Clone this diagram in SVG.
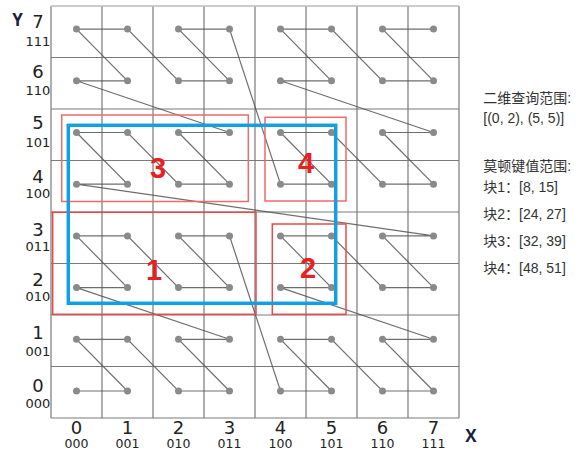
<svg xmlns="http://www.w3.org/2000/svg" width="584" height="451" viewBox="0 0 584 451">
<style>
.grid{stroke:#7a7a7a;stroke-width:1.2;fill:none}
.curve{stroke:#555;stroke-width:1.2;fill:none;stroke-opacity:0.85}
.pt{fill:#8a8a8a}
.ax{font-family:"DejaVu Sans",sans-serif;fill:#222;text-anchor:middle}
.d{font-size:18px}
.b{font-size:13px}
.xb{font-size:12.5px}
.axname{font-family:"Open Sans","Liberation Sans",sans-serif;font-weight:bold;font-size:17px;fill:#1b1f3a;text-anchor:middle}
.blk{fill:none;stroke:#e84a4a;stroke-width:1.5}
.blk2{fill:none;stroke:#f06a6a;stroke-width:1.5}
.num{font-family:"Liberation Sans",Arial,sans-serif;font-weight:bold;font-size:29px;fill:#e82020;text-anchor:middle}
.q{fill:none;stroke:#12a0e0;stroke-width:3.5}
.info{font-family:"Liberation Sans","Noto Sans CJK SC",sans-serif;font-size:14px;fill:#333}
</style>
<rect width="584" height="451" fill="#fff"/>
<g id="grid">
<path class="grid" d="M51,57.5H459M51,109H459M51,160.5H459M51,212H459M51,263.5H459M51,315H459M51,366.5H459M51,418H459"/>
<path class="grid" d="M51,6V418M102,6V418M153,6V418M204,6V418M255,6V418M306,6V418M357,6V418M408,6V418M459,6V418"/>
<path d="M51,6H459" stroke="#bbb" stroke-width="1.5" fill="none"/>
</g>
<g id="connectors">
<polyline class="curve" points="76.5,391 127.5,391 76.5,339.3 127.5,339.3 178.5,391 229.5,391 178.5,339.3 229.5,339.3 76.5,287.6 127.5,287.6 76.5,235.9 127.5,235.9 178.5,287.6 229.5,287.6 178.5,235.9 229.5,235.9 280.5,391 331.5,391 280.5,339.3 331.5,339.3 382.5,391 433.5,391 382.5,339.3 433.5,339.3 280.5,287.6 331.5,287.6 280.5,235.9 331.5,235.9 382.5,287.6 433.5,287.6 382.5,235.9 433.5,235.9 76.5,184.2 127.5,184.2 76.5,132.5 127.5,132.5 178.5,184.2 229.5,184.2 178.5,132.5 229.5,132.5 76.5,80.8 127.5,80.8 76.5,29.1 127.5,29.1 178.5,80.8 229.5,80.8 178.5,29.1 229.5,29.1 280.5,184.2 331.5,184.2 280.5,132.5 331.5,132.5 382.5,184.2 433.5,184.2 382.5,132.5 433.5,132.5 280.5,80.8 331.5,80.8 280.5,29.1 331.5,29.1 382.5,80.8 433.5,80.8 382.5,29.1 433.5,29.1"/>
</g>
<g id="points">
<g class="pt">
<circle cx="76.5" cy="391" r="3.5"/><circle cx="127.5" cy="391" r="3.5"/><circle cx="178.5" cy="391" r="3.5"/><circle cx="229.5" cy="391" r="3.5"/><circle cx="280.5" cy="391" r="3.5"/><circle cx="331.5" cy="391" r="3.5"/><circle cx="382.5" cy="391" r="3.5"/><circle cx="433.5" cy="391" r="3.5"/>
<circle cx="76.5" cy="339.3" r="3.5"/><circle cx="127.5" cy="339.3" r="3.5"/><circle cx="178.5" cy="339.3" r="3.5"/><circle cx="229.5" cy="339.3" r="3.5"/><circle cx="280.5" cy="339.3" r="3.5"/><circle cx="331.5" cy="339.3" r="3.5"/><circle cx="382.5" cy="339.3" r="3.5"/><circle cx="433.5" cy="339.3" r="3.5"/>
<circle cx="76.5" cy="287.6" r="3.5"/><circle cx="127.5" cy="287.6" r="3.5"/><circle cx="178.5" cy="287.6" r="3.5"/><circle cx="229.5" cy="287.6" r="3.5"/><circle cx="280.5" cy="287.6" r="3.5"/><circle cx="331.5" cy="287.6" r="3.5"/><circle cx="382.5" cy="287.6" r="3.5"/><circle cx="433.5" cy="287.6" r="3.5"/>
<circle cx="76.5" cy="235.9" r="3.5"/><circle cx="127.5" cy="235.9" r="3.5"/><circle cx="178.5" cy="235.9" r="3.5"/><circle cx="229.5" cy="235.9" r="3.5"/><circle cx="280.5" cy="235.9" r="3.5"/><circle cx="331.5" cy="235.9" r="3.5"/><circle cx="382.5" cy="235.9" r="3.5"/><circle cx="433.5" cy="235.9" r="3.5"/>
<circle cx="76.5" cy="184.2" r="3.5"/><circle cx="127.5" cy="184.2" r="3.5"/><circle cx="178.5" cy="184.2" r="3.5"/><circle cx="229.5" cy="184.2" r="3.5"/><circle cx="280.5" cy="184.2" r="3.5"/><circle cx="331.5" cy="184.2" r="3.5"/><circle cx="382.5" cy="184.2" r="3.5"/><circle cx="433.5" cy="184.2" r="3.5"/>
<circle cx="76.5" cy="132.5" r="3.5"/><circle cx="127.5" cy="132.5" r="3.5"/><circle cx="178.5" cy="132.5" r="3.5"/><circle cx="229.5" cy="132.5" r="3.5"/><circle cx="280.5" cy="132.5" r="3.5"/><circle cx="331.5" cy="132.5" r="3.5"/><circle cx="382.5" cy="132.5" r="3.5"/><circle cx="433.5" cy="132.5" r="3.5"/>
<circle cx="76.5" cy="80.8" r="3.5"/><circle cx="127.5" cy="80.8" r="3.5"/><circle cx="178.5" cy="80.8" r="3.5"/><circle cx="229.5" cy="80.8" r="3.5"/><circle cx="280.5" cy="80.8" r="3.5"/><circle cx="331.5" cy="80.8" r="3.5"/><circle cx="382.5" cy="80.8" r="3.5"/><circle cx="433.5" cy="80.8" r="3.5"/>
<circle cx="76.5" cy="29.1" r="3.5"/><circle cx="127.5" cy="29.1" r="3.5"/><circle cx="178.5" cy="29.1" r="3.5"/><circle cx="229.5" cy="29.1" r="3.5"/><circle cx="280.5" cy="29.1" r="3.5"/><circle cx="331.5" cy="29.1" r="3.5"/><circle cx="382.5" cy="29.1" r="3.5"/><circle cx="433.5" cy="29.1" r="3.5"/>
</g>
</g>
<g id="y-axis">
<text class="axname" x="17.5" y="25.7">Y</text>
<text class="ax d" x="38" y="28.3">7</text><text class="ax b" x="38" y="46.4">111</text>
<text class="ax d" x="38" y="78.3">6</text><text class="ax b" x="38" y="95.4">110</text>
<text class="ax d" x="38" y="129.3">5</text><text class="ax b" x="38" y="147">101</text>
<text class="ax d" x="38" y="182.6">4</text><text class="ax b" x="38" y="198">100</text>
<text class="ax d" x="38" y="235.6">3</text><text class="ax b" x="38" y="251.4">011</text>
<text class="ax d" x="38" y="285.9">2</text><text class="ax b" x="38" y="301.4">010</text>
<text class="ax d" x="38" y="338.9">1</text><text class="ax b" x="38" y="355.7">001</text>
<text class="ax d" x="38" y="391.6">0</text><text class="ax b" x="38" y="408">000</text>
</g>
<g id="x-axis">
<text class="axname" x="471" y="442">X</text>
<text class="ax d" x="76.5" y="433.5">0</text><text class="ax xb" x="76.5" y="447.5">000</text>
<text class="ax d" x="127.5" y="433.5">1</text><text class="ax xb" x="127.5" y="447.5">001</text>
<text class="ax d" x="178.5" y="433.5">2</text><text class="ax xb" x="178.5" y="447.5">010</text>
<text class="ax d" x="229.5" y="433.5">3</text><text class="ax xb" x="229.5" y="447.5">011</text>
<text class="ax d" x="280.5" y="433.5">4</text><text class="ax xb" x="280.5" y="447.5">100</text>
<text class="ax d" x="331.5" y="433.5">5</text><text class="ax xb" x="331.5" y="447.5">101</text>
<text class="ax d" x="382.5" y="433.5">6</text><text class="ax xb" x="382.5" y="447.5">110</text>
<text class="ax d" x="433.5" y="433.5">7</text><text class="ax xb" x="433.5" y="447.5">111</text>
</g>
<g id="block3"><rect class="blk2" x="61.7" y="115" width="186.6" height="86.5"/><text class="num" x="158" y="178.3">3</text></g>
<g id="block4"><rect class="blk2" x="265" y="117.3" width="81" height="83.7"/><text class="num" x="306" y="172.7">4</text></g>
<g id="block1"><rect class="blk" x="52.7" y="212.3" width="203.3" height="102"/><text class="num" x="154" y="280">1</text></g>
<g id="block2"><rect class="blk" x="272.3" y="224" width="73.7" height="90.3"/><text class="num" x="308" y="277.7">2</text></g>
<g id="query"><rect class="q" x="68.3" y="125.3" width="267.4" height="178"/></g>
<g id="legend">
<text class="info" x="483.3" y="103.3">二维查询范围:</text>
<text class="info" x="483.3" y="123.3">[(0, 2), (5, 5)]</text>
<text class="info" x="483.3" y="170.7">莫顿键值范围:</text>
<text class="info" x="483.3" y="191.7">块1：[8, 15]</text>
<text class="info" x="483.3" y="219">块2：[24, 27]</text>
<text class="info" x="483.3" y="246">块3：[32, 39]</text>
<text class="info" x="483.3" y="273.3">块4：[48, 51]</text>
</g>
</svg>
